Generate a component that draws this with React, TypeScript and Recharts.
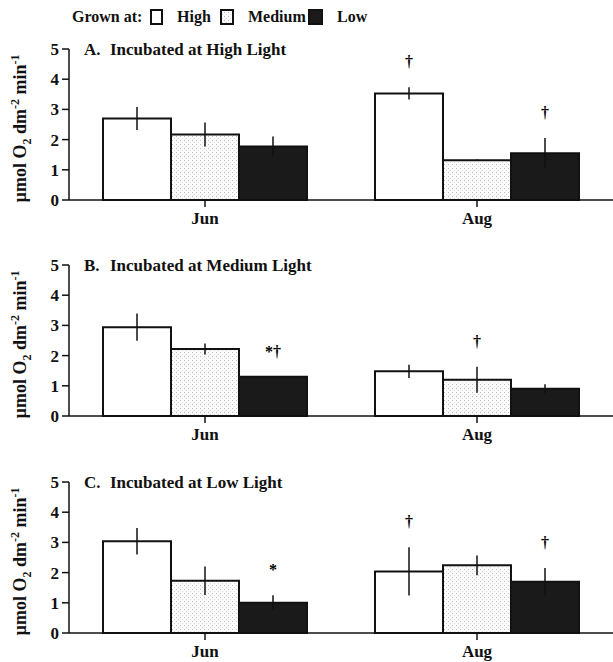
import React from "react";
import { BarChart, Bar, XAxis, YAxis, ErrorBar, LabelList, Label } from "recharts";

// ---------- data ----------
const months = ["Jun", "Aug"];
const growthLevels = ["High", "Medium", "Low"];
const yTicks = [0, 1, 2, 3, 4, 5];
const panelLetters = ["A.", "B.", "C."];
const panelTitles = [
  "Incubated at High Light",
  "Incubated at Medium Light",
  "Incubated at Low Light",
];

// Panel A – incubated at high light
const aHigh = [2.7, 3.53];
const aHighErr = [0.38, 0.2];
const aHighNote = ["", "†"];
const aMedium = [2.17, 1.32];
const aMediumErr = [0.4, 0.03];
const aMediumNote = ["", ""];
const aLow = [1.77, 1.55];
const aLowErr = [0.33, 0.5];
const aLowNote = ["", "†"];

// Panel B – incubated at medium light
const bHigh = [2.94, 1.48];
const bHighErr = [0.45, 0.22];
const bHighNote = ["", ""];
const bMedium = [2.22, 1.2];
const bMediumErr = [0.18, 0.43];
const bMediumNote = ["", "†"];
const bLow = [1.3, 0.9];
const bLowErr = [0.0, 0.15];
const bLowNote = ["*†", ""];

// Panel C – incubated at low light
const cHigh = [3.04, 2.04];
const cHighErr = [0.44, 0.8];
const cHighNote = ["", "†"];
const cMedium = [1.73, 2.24];
const cMediumErr = [0.47, 0.33];
const cMediumNote = ["", ""];
const cLow = [1.0, 1.7];
const cLowErr = [0.25, 0.45];
const cLowNote = ["*", "†"];

const panels = [
  { high: aHigh, highErr: aHighErr, highNote: aHighNote, medium: aMedium, mediumErr: aMediumErr, mediumNote: aMediumNote, low: aLow, lowErr: aLowErr, lowNote: aLowNote },
  { high: bHigh, highErr: bHighErr, highNote: bHighNote, medium: bMedium, mediumErr: bMediumErr, mediumNote: bMediumNote, low: bLow, lowErr: bLowErr, lowNote: bLowNote },
  { high: cHigh, highErr: cHighErr, highNote: cHighNote, medium: cMedium, mediumErr: cMediumErr, mediumNote: cMediumNote, low: cLow, lowErr: cLowErr, lowNote: cLowNote },
];

// ---------- styling ----------
const FONT = "'Liberation Serif', 'Times New Roman', serif";
const INK = "#111";
const PANEL_OFFSETS = [0, 216, 433];
const CHART_W = 613;
const CHART_H = 229;

const makeNote = (values: number[], errs: number[]) => (props: any) => {
  const { x, y, width, height, value, index } = props;
  if (!value) return null;
  const v = values[index];
  const ppu = v > 0 ? Number(height) / v : 0;
  const errTop = Number(y) - errs[index] * ppu;
  return (
    <text
      x={Number(x) + Number(width) / 2}
      y={errTop - 20}
      textAnchor="middle"
      fontFamily={FONT}
      fontWeight="bold"
      fontSize={16}
      fill="#000"
    >
      {value}
    </text>
  );
};

const YLabel = (props: any) => {
  const vb = props.viewBox || {};
  const cx = (vb.x || 0) + 26;
  const cy = (vb.y || 0) + (vb.height || 0) / 2 + 4;
  return (
    <text
      x={cx}
      y={cy}
      transform={`rotate(-90, ${cx}, ${cy})`}
      textAnchor="middle"
      fontFamily={FONT}
      fontWeight="bold"
      fontSize={18}
      fill={INK}
    >
      <tspan>µmol O</tspan>
      <tspan dy={5} fontSize={12}>2</tspan>
      <tspan dy={-5}> dm</tspan>
      <tspan dy={-7} fontSize={12}>-2</tspan>
      <tspan dy={7}> min</tspan>
      <tspan dy={-7} fontSize={12}>-1</tspan>
    </text>
  );
};

function Panel({ idx }: { idx: number }) {
  const p = panels[idx];
  const data = months.map((m, i) => ({
    month: m,
    high: p.high[i],
    highErr: p.highErr[i],
    highNote: p.highNote[i],
    medium: p.medium[i],
    mediumErr: p.mediumErr[i],
    mediumNote: p.mediumNote[i],
    low: p.low[i],
    lowErr: p.lowErr[i],
    lowNote: p.lowNote[i],
  }));
  const patId = `stipple${idx}`;
  return (
    <div style={{ position: "absolute", left: 0, top: PANEL_OFFSETS[idx] }}>
      <BarChart
        width={CHART_W}
        height={CHART_H}
        data={data}
        margin={{ top: 49, right: 0, bottom: 0, left: 0 }}
        barCategoryGap="12.5%"
        barGap={0}
      >
        <defs>
          <pattern id={patId} width={4} height={4} patternUnits="userSpaceOnUse">
            <rect width={4} height={4} fill="#fbfbfb" />
            <rect width={1} height={1} fill="#bdbdbd" />
            <rect x={2} y={2} width={1} height={1} fill="#dcdcdc" />
          </pattern>
        </defs>
        <XAxis
          dataKey="month"
          height={29}
          tickSize={7}
          tickMargin={5}
          axisLine={{ stroke: INK, strokeWidth: 1.5 }}
          tickLine={{ stroke: INK, strokeWidth: 1.5 }}
          tick={{ fill: INK, fontFamily: FONT, fontWeight: "bold", fontSize: 17 }}
        />
        <YAxis
          width={69}
          domain={[0, 5]}
          ticks={yTicks}
          interval={0}
          tickSize={7}
          tickMargin={3}
          axisLine={{ stroke: INK, strokeWidth: 1.5 }}
          tickLine={{ stroke: INK, strokeWidth: 1.5 }}
          tick={{ fill: INK, fontFamily: FONT, fontWeight: "bold", fontSize: 17 }}
        >
          <Label content={<YLabel />} />
        </YAxis>
        <Bar dataKey="high" name={growthLevels[0]} fill="#ffffff" stroke={INK} strokeWidth={2} isAnimationActive={false}>
          <ErrorBar dataKey="highErr" width={0} stroke={INK} strokeWidth={1.5} />
          <LabelList dataKey="highNote" content={makeNote(p.high, p.highErr)} />
        </Bar>
        <Bar dataKey="medium" name={growthLevels[1]} fill={`url(#${patId})`} stroke={INK} strokeWidth={2} isAnimationActive={false}>
          <ErrorBar dataKey="mediumErr" width={0} stroke={INK} strokeWidth={1.5} />
          <LabelList dataKey="mediumNote" content={makeNote(p.medium, p.mediumErr)} />
        </Bar>
        <Bar dataKey="low" name={growthLevels[2]} fill="#1a1a1a" stroke={INK} strokeWidth={2} isAnimationActive={false}>
          <ErrorBar dataKey="lowErr" width={0} stroke={INK} strokeWidth={1.5} />
          <LabelList dataKey="lowNote" content={makeNote(p.low, p.lowErr)} />
        </Bar>
      </BarChart>
    </div>
  );
}

export default function App() {
  const txt = { fontFamily: FONT, fontWeight: "bold" as const, fontSize: 16, fill: INK };
  const title = { ...txt, fontSize: 17 };
  return (
    <div style={{ position: "absolute", left: 0, top: 0, width: 613, height: 662, background: "#fff", overflow: "hidden" }}>
      {panels.map((_, i) => (
        <Panel key={i} idx={i} />
      ))}
      <svg width={613} height={662} style={{ position: "absolute", left: 0, top: 0, pointerEvents: "none" }}>
        <defs>
          <pattern id="stippleLegend" width={4} height={4} patternUnits="userSpaceOnUse">
            <rect width={4} height={4} fill="#fbfbfb" />
            <rect width={1} height={1} fill="#bdbdbd" />
            <rect x={2} y={2} width={1} height={1} fill="#dcdcdc" />
          </pattern>
        </defs>
        <text x={72} y={22} {...txt}>Grown at:</text>
        <rect x={151} y={10} width={11} height={14} fill="#fff" stroke={INK} strokeWidth={2} />
        <text x={177} y={22} {...txt}>{growthLevels[0]}</text>
        <rect x={221} y={10} width={12} height={14} fill="url(#stippleLegend)" stroke={INK} strokeWidth={2} />
        <text x={248} y={22} {...txt}>{growthLevels[1]}</text>
        <rect x={309} y={10} width={13} height={14} fill="#1a1a1a" stroke={INK} strokeWidth={2} />
        <text x={337} y={22} {...txt}>{growthLevels[2]}</text>
        {panelTitles.map((t, i) => (
          <g key={i}>
            <text x={84} y={PANEL_OFFSETS[i] + 55} {...title}>{panelLetters[i]}</text>
            <text x={110} y={PANEL_OFFSETS[i] + 55} {...title}>{t}</text>
          </g>
        ))}
      </svg>
    </div>
  );
}
